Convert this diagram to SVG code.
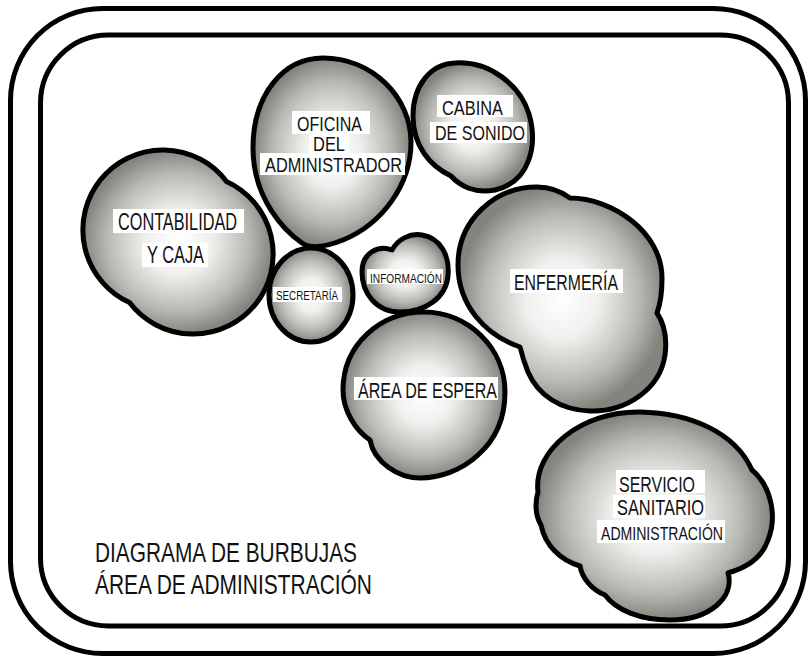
<svg xmlns="http://www.w3.org/2000/svg" width="811" height="661" viewBox="0 0 811 661">
<defs>
<radialGradient id="bub" cx="50%" cy="50%" r="50%">
<stop offset="0" stop-color="#ffffff"/>
<stop offset="0.35" stop-color="#f0f0ee"/>
<stop offset="0.75" stop-color="#b8b8b3"/>
<stop offset="1" stop-color="#84847e"/>
</radialGradient>
<style>
.frame{fill:none;stroke:#000;stroke-width:5}
.blob{fill:url(#bub);stroke:#000;stroke-width:5;stroke-linejoin:round}
.bg{fill:#fff}
.t{font-family:"Liberation Sans Narrow","Liberation Sans",Arial,sans-serif;fill:#111;text-anchor:start}
</style>
</defs>
<rect width="811" height="661" fill="#fff"/>
<g id="frame">
<rect class="frame" x="10.5" y="8.5" width="795" height="645" rx="92" ry="92"/>
<rect class="frame" x="40.5" y="35" width="748" height="591" rx="68" ry="68"/>
</g>
<g id="connectors"></g>

<g id="contabilidad">
<path class="blob" d="M 226.5 181.4 A 80 80 0 1 0 129.5 302.6 A 80 80 0 1 0 226.5 181.4 Z"/>
<rect class="bg" x="113" y="209" width="131" height="24"/>
<text class="t" x="118" y="230" font-size="23" textLength="119" lengthAdjust="spacingAndGlyphs">CONTABILIDAD</text>
<rect class="bg" x="142" y="243" width="66" height="24"/>
<text class="t" x="147" y="263" font-size="23" textLength="57" lengthAdjust="spacingAndGlyphs">Y CAJA</text>
</g>

<g id="oficina">
<path class="blob" d="M 323 58 C 372 58, 411 97, 411 142 C 411 185, 382 224, 343 240 C 328 246, 312 250, 302 243 C 286 232, 253 200, 253 148 C 253 95, 283 58, 323 58 Z"/>
<rect class="bg" x="292" y="111" width="78" height="23"/>
<text class="t" x="297" y="131" font-size="19.5" textLength="65" lengthAdjust="spacingAndGlyphs">OFICINA</text>
<rect class="bg" x="309" y="134" width="40" height="19"/>
<text class="t" x="313" y="151" font-size="19.5" textLength="32" lengthAdjust="spacingAndGlyphs">DEL</text>
<rect class="bg" x="260" y="153" width="145" height="22"/>
<text class="t" x="265" y="172" font-size="19.5" textLength="137" lengthAdjust="spacingAndGlyphs">ADMINISTRADOR</text>
</g>

<g id="cabina">
<path class="blob" d="M 455 63 C 490 61, 520 85, 529 114 C 538 145, 530 182, 495 190 C 475 194, 460 186, 451 176 C 430 166, 413 146, 413 116 C 413 86, 430 64, 455 63 Z"/>
<rect class="bg" x="437" y="95" width="76" height="22"/>
<text class="t" x="442" y="115" font-size="20" textLength="61" lengthAdjust="spacingAndGlyphs">CABINA</text>
<rect class="bg" x="430" y="122" width="97" height="21"/>
<text class="t" x="435" y="140" font-size="20" textLength="90" lengthAdjust="spacingAndGlyphs">DE SONIDO</text>
</g>

<g id="secretaria">
<ellipse class="blob" cx="311" cy="295" rx="42" ry="47"/>
<rect class="bg" x="273" y="287" width="69" height="15"/>
<text class="t" x="276" y="300" font-size="13.5" textLength="62" lengthAdjust="spacingAndGlyphs">SECRETARÍA</text>
</g>

<g id="informacion">
<path class="blob" d="M 362 272 C 362 252, 379 245, 392 250 C 398 239, 410 233, 422 235 C 440 238, 450 255, 448 276 C 446 298, 425 312, 400 312 C 376 312, 362 293, 362 272 Z"/>
<rect class="bg" x="367" y="269" width="76" height="15"/>
<text class="t" x="370" y="283" font-size="13.5" textLength="72" lengthAdjust="spacingAndGlyphs">INFORMACIÓN</text>
</g>

<g id="enfermeria">
<path class="blob" d="M 458 265 C 458 220, 495 187, 537 187 C 552 187, 562 192, 570 198 C 612 198, 662 232, 662 278 C 662 295, 660 305, 657 313 C 665 325, 667 340, 665 355 C 660 390, 625 412, 590 411 C 560 410, 538 395, 528 372 C 524 362, 522 355, 520 347 C 485 335, 458 305, 458 265 Z"/>
<rect class="bg" x="510" y="269" width="113" height="24"/>
<text class="t" x="514" y="290" font-size="22" textLength="104" lengthAdjust="spacingAndGlyphs">ENFERMERÍA</text>
</g>

<g id="espera">
<path class="blob" d="M 343 390 C 343 345, 380 312, 424 312 C 468 312, 505 348, 505 392 C 505 420, 495 440, 478 455 C 462 470, 440 478, 420 478 C 398 478, 374 462, 370 440 C 355 430, 343 410, 343 390 Z"/>
<rect class="bg" x="354" y="377" width="144" height="23"/>
<text class="t" x="358" y="398" font-size="21.5" textLength="139" lengthAdjust="spacingAndGlyphs">ÁREA DE ESPERA</text>
</g>

<g id="sanitario">
<path class="blob" d="M 538 492 C 533 450, 582 411, 640 412 C 690 413, 735 432, 752 470 C 770 485, 778 515, 768 540 C 762 558, 746 568, 728 573 C 735 597, 710 620, 670 620 C 640 620, 616 610, 605 595 C 592 590, 582 578, 580 566 C 560 560, 545 545, 541 525 C 535 515, 535 502, 538 492 Z"/>
<rect class="bg" x="616" y="470" width="89" height="23"/>
<text class="t" x="619" y="492" font-size="22" textLength="76" lengthAdjust="spacingAndGlyphs">SERVICIO</text>
<rect class="bg" x="613" y="495" width="92" height="23"/>
<text class="t" x="617" y="515" font-size="22" textLength="87" lengthAdjust="spacingAndGlyphs">SANITARIO</text>
<rect class="bg" x="597" y="520" width="128" height="23"/>
<text class="t" x="601" y="540" font-size="18" textLength="122" lengthAdjust="spacingAndGlyphs">ADMINISTRACIÓN</text>
</g>

<g id="titulo">
<text class="t" x="95" y="562" font-size="28" textLength="262" lengthAdjust="spacingAndGlyphs">DIAGRAMA DE BURBUJAS</text>
<text class="t" x="95" y="594" font-size="28" textLength="277" lengthAdjust="spacingAndGlyphs">ÁREA DE ADMINISTRACIÓN</text>
</g>
</svg>
